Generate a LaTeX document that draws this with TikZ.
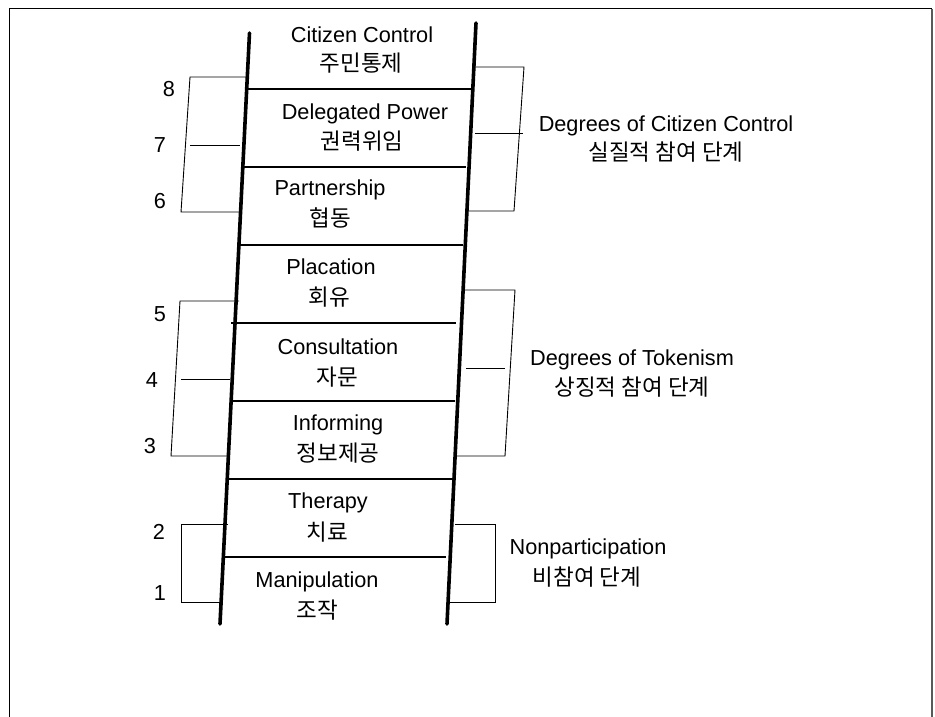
\documentclass[tikz,border=0pt]{standalone}
\usepackage{fontspec}
\setmainfont{Liberation Sans}
\newfontfamily\krfont{Noto Sans CJK KR}
\begin{document}
\begin{tikzpicture}[x=1pt,y=-1pt,
  rail/.style={line width=3.6pt, line cap=round},
  rung/.style={line width=2.8pt},
  brk/.style={line width=0.9pt},
  lat/.style={inner sep=0pt, text height=15.6pt, text depth=0pt, font=\fontsize{21.7}{26}\selectfont},
  kor/.style={inner sep=0pt, font=\krfont\fontsize{22.5}{26}\selectfont},
  num/.style={inner sep=0pt, text height=15.6pt, text depth=0pt, font=\fontsize{21.7}{26}\selectfont}]
\useasboundingbox (0,0) rectangle (935,717);
% frame
\draw[line width=1pt] (9,717) -- (9,9) -- (932,9);
\draw[line width=1.6pt, black!65] (932,9) -- (932,717);
% rails
\coordinate (LT) at (249.5,33); \coordinate (LB) at (220,624);
\coordinate (RT) at (476,23);   \coordinate (RB) at (447,624);
\draw[rail] (LT) -- (LB);
\draw[rail] (RT) -- (RB);
% rungs
\draw[rung] (247,89) -- (474,89);
\draw[rung] (241,167) -- (466,167);
\draw[rung] (238,245) -- (463,245);
\draw[rung] (231,323) -- (456,323);
\draw[rung] (232,401) -- (455,401);
\draw[rung] (228,479) -- (455,479);
\draw[rung] (222,557) -- (446,557);
% left brackets
\draw[brk] (248,77) -- (190,77) -- (181,212) -- (240,212);
\draw[brk] (190,145) -- (240,145);
\draw[brk] (239,301) -- (180,301) -- (171,456) -- (228,456);
\draw[brk] (181,379) -- (230,379);
\draw[brk] (228,524) -- (181,524) -- (181,602) -- (220,602);
% right brackets
\draw[brk] (474,67) -- (524,67) -- (514,211) -- (467,211);
\draw[brk] (475,133) -- (523,133);
\draw[brk] (465,290) -- (515,290) -- (505,456) -- (456,456);
\draw[brk] (466,368) -- (505,368);
\draw[brk] (455,524) -- (495,524) -- (495,602) -- (448,602);
% numbers
\node[num] (n8) at (169,89) {8};
\node[num] (n7) at (160,145) {7};
\node[num] (n6) at (160,201) {6};
\node[num] (n5) at (160,314) {5};
\node[num] (n4) at (152,380) {4};
\node[num] (n3) at (150,446) {3};
\node[num] (n2) at (159,532) {2};
\node[num] (n1) at (160,593) {1};
% ladder texts
\node[lat] (t8) at (362,35) {Citizen Control};
\node[kor] (k8) at (361,63) {주민통제};
\node[lat] (t7) at (365,112) {Delegated Power};
\node[kor] (k7) at (362,141) {권력위임};
\node[lat] (t6) at (330,188) {Partnership};
\node[kor] (k6) at (330,218) {협동};
\node[lat] (t5) at (331,267) {Placation};
\node[kor] (k5) at (329,297) {회유};
\node[lat] (t4) at (338,347) {Consultation};
\node[kor] (k4) at (337,377) {자문};
\node[lat] (t3) at (338,423) {Informing};
\node[kor] (k3) at (338,453) {정보제공};
\node[lat] (t2) at (328,501) {Therapy};
\node[kor] (k2) at (327,532) {치료};
\node[lat] (t1) at (317,580) {Manipulation};
\node[kor] (k1) at (317,610) {조작};
% group labels
\node[lat] (g3) at (666,124) {Degrees of Citizen Control};
\node[kor] (h3) at (666,152) {실질적 참여 단계};
\node[lat] (g2) at (632,358) {Degrees of Tokenism};
\node[kor] (h2) at (632,387) {상징적 참여 단계};
\node[lat] (g1) at (588,547) {Nonparticipation};
\node[kor] (h1) at (587,577) {비참여 단계};
\end{tikzpicture}
\end{document}
